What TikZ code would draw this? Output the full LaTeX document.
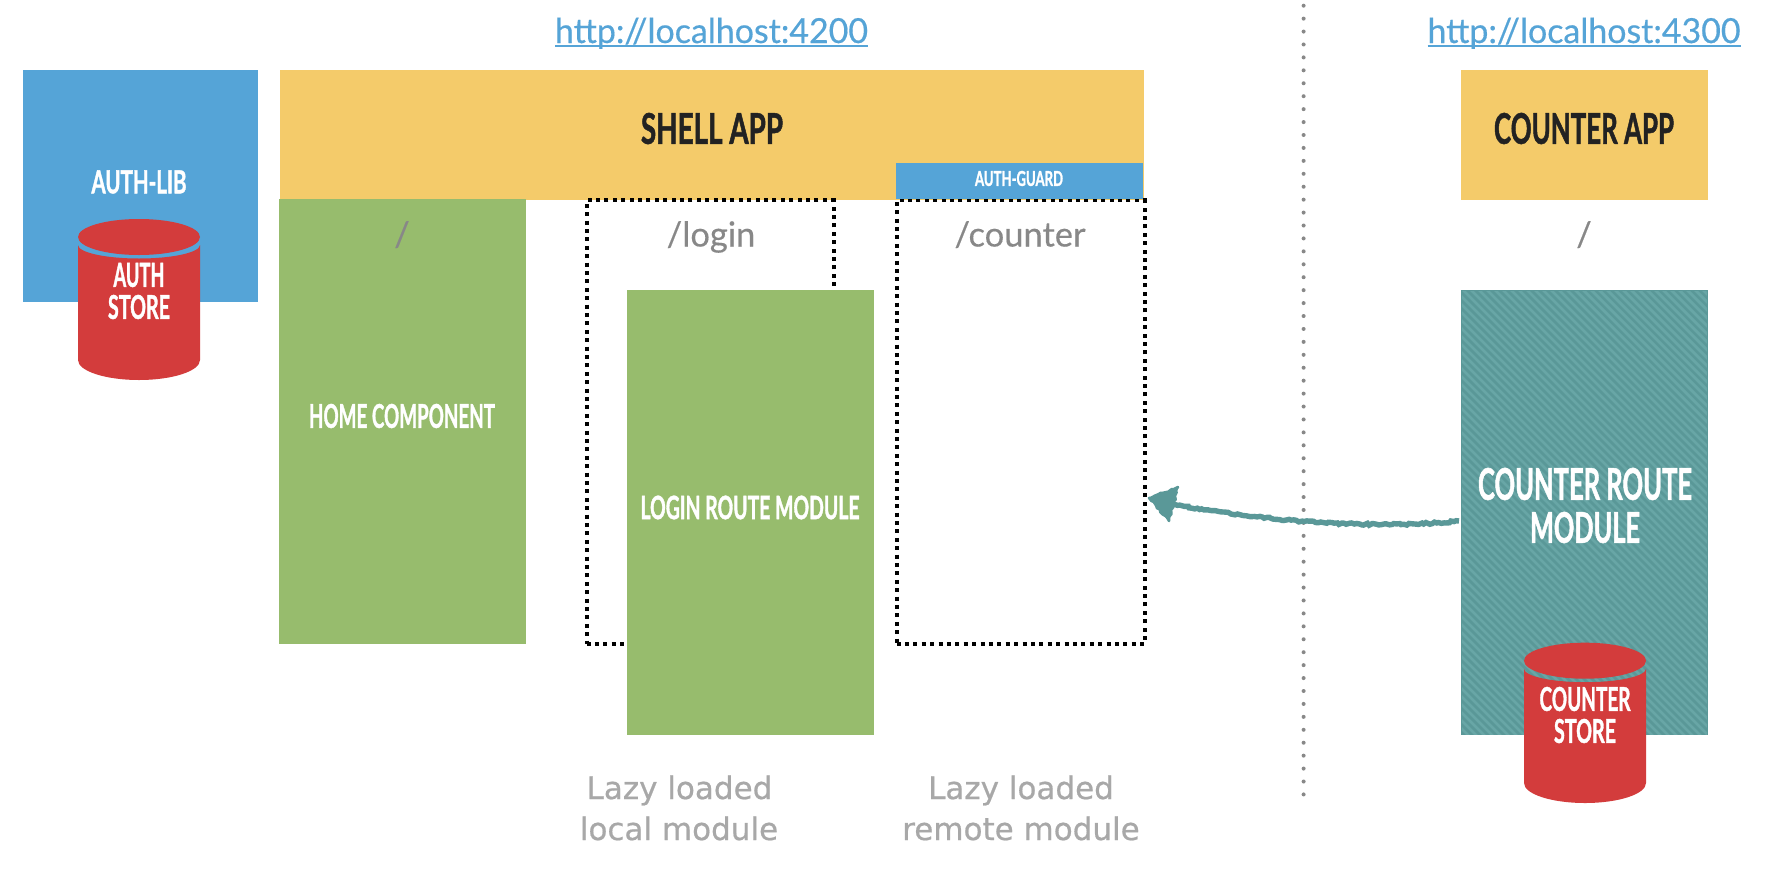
\documentclass[tikz,border=0pt]{standalone}
\usepackage{fontspec}
\usetikzlibrary{decorations.pathmorphing}
\newfontfamily\din[FakeStretch=0.7,FakeBold=1.2]{Lato Bold}
\newfontfamily\urlfont[FakeBold=0.4]{Lato}
\newfontfamily\routefont[FakeBold=0.3]{Lato}
\newfontfamily\handfont[FakeBold=0.6]{DejaVu Sans}
\definecolor{ylw}{HTML}{F4CB6A}
\definecolor{blu}{HTML}{55A4D7}
\definecolor{grn}{HTML}{97BC6D}
\definecolor{rd}{HTML}{D33C3C}
\definecolor{tealA}{HTML}{5A9898}
\definecolor{tealB}{HTML}{68A6A6}
\definecolor{ink}{HTML}{222222}
\definecolor{pathgray}{HTML}{888888}
\definecolor{handgray}{HTML}{A8A8A8}
\newcommand{\fitted}[3]{\resizebox{#1pt}{#2pt}{\din #3}}
\tikzset{
  x=1pt,y=-1pt,
  plate/.style={inner sep=0pt,outer sep=0pt,draw=none},
  dotbox/.style={plate,draw=black,line width=4pt,dash pattern=on 4pt off 4.4pt},
  caption/.style={inner sep=0pt,outer sep=0pt,text=white},
  darkcaption/.style={caption,text=ink},
  route/.style={inner sep=0pt,outer sep=0pt,text=pathgray,font=\routefont\fontsize{34.5}{34.5}\selectfont,anchor=base},
  urlnode/.style={inner sep=0pt,outer sep=0pt,text=blu,anchor=base},
  urlline/.style={draw=blu,line width=1.6pt},
  handtext/.style={inner sep=0pt,outer sep=0pt,text=handgray,anchor=base,font=\handfont\fontsize{31}{31}\selectfont},
}
\newcommand{\cylinder}[3]{%
  \fill[rd] (#1-61,#2+26) arc[start angle=180,end angle=0,x radius=61,y radius=13.5]
     -- (#1+61,#3-20) arc[start angle=0,end angle=180,x radius=61,y radius=20] -- cycle;
  \fill[rd] (#1,#2+18) ellipse[x radius=61,y radius=18];
}
\begin{document}
\begin{tikzpicture}
\useasboundingbox (0,0) rectangle (1776,870);
\fill[white] (0,0) rectangle (1776,870);

% separator
\coordinate (sepTop) at (1303.6,5.7);
\coordinate (sepBot) at (1303.6,795.5);
\draw[pathgray,line width=4pt,line cap=round,dash pattern=on 0pt off 12.93pt] (sepTop) -- (sepBot);

% URLs
\node[urlnode] (url1) at (711.5,43) {\resizebox*{313pt}{31.3pt}{\urlfont http://localhost:4200}};
\node[urlnode] (url2) at (1584,43) {\resizebox*{313pt}{31.3pt}{\urlfont http://localhost:4300}};
\draw[urlline] ([yshift=-3pt]url1.base west) -- ([yshift=-3pt]url1.base east);
\draw[urlline] ([yshift=-3pt]url2.base west) -- ([yshift=-3pt]url2.base east);

% auth lib
\node[plate,fill=blu,minimum width=235pt,minimum height=232pt] (authlib) at (140.5,186) {};
\node[caption] (authlibT) at (139,182) {\fitted{95}{23}{AUTH-LIB}};
\cylinder{139}{219}{380}
\node[caption] (authT1) at (139,275) {\fitted{51}{24}{AUTH}};
\node[caption] (authT2) at (139,307) {\fitted{62}{24}{STORE}};

% shell
\node[plate,fill=ylw,minimum width=864.5pt,minimum height=130pt] (shell) at (711.9,135) {};
\node[darkcaption] (shellT) at (712,128.5) {\fitted{142}{31}{SHELL APP}};

% home
\node[plate,fill=grn,minimum width=247pt,minimum height=445pt] (home) at (402.5,421.5) {};
\node[route] (homeR) at (402,246.5) {/};
\node[caption] (homeT) at (402,416) {\fitted{186}{24}{HOME COMPONENT}};

% login
\node[dotbox,minimum width=247pt,minimum height=443.5pt] (loginbox) at (710,422.2) {};
\node[route] (loginR) at (711,246.5) {/login};
\node[plate,fill=grn,minimum width=247pt,minimum height=445pt] (loginmod) at (750.3,512.5) {};
\node[caption] (loginT) at (750,507.5) {\fitted{219}{23.5}{LOGIN ROUTE MODULE}};

% counter box + guard
\node[dotbox,minimum width=248pt,minimum height=443.5pt] (counterbox) at (1020.5,422.2) {};
\node[route] (counterR) at (1020,246.5) {/counter};
\node[plate,fill=blu,minimum width=247pt,minimum height=36pt] (guard) at (1019.5,181) {};
\node[caption] (guardT) at (1019,178.5) {\fitted{88}{15}{AUTH-GUARD}};

% counter app
\node[plate,fill=ylw,minimum width=247pt,minimum height=130pt] (capp) at (1584.5,135) {};
\node[darkcaption] (cappT) at (1584,128.5) {\fitted{180}{31}{COUNTER APP}};
\node[route] (cappR) at (1584,246.5) {/};

% counter route module
\node[plate,fill=tealA,minimum width=247pt,minimum height=445pt] (cmod) at (1584.5,512.5) {};
\begin{scope}
  \clip (1462,291) rectangle (1707,734);
  \foreach \k in {-60,...,32}
    \draw[tealB,line width=2.8pt] (1461+\k*8,280) -- ++(500,500);
\end{scope}
\node[caption] (cmodT1) at (1585,484) {\fitted{214}{32}{COUNTER ROUTE}};
\node[caption] (cmodT2) at (1585,527.5) {\fitted{110}{31}{MODULE}};
\cylinder{1585}{642.7}{803}
\node[caption] (cT1) at (1585,699) {\fitted{91}{24}{COUNTER}};
\node[caption] (cT2) at (1585,731) {\fitted{62}{24}{STORE}};

% arrow
\pgfmathsetseed{42}
\coordinate (arrowStart) at (1459,521);
\coordinate (arrowEnd) at (1172,504);
\coordinate (tip) at (1149,498);
\draw[tealA,line width=5.4pt,decorate,decoration={random steps,segment length=2.5pt,amplitude=1pt}]
  (arrowStart) .. controls (1390,528) and (1280,525) .. (arrowEnd);
\filldraw[fill=tealA,draw=tealA,line width=2.5pt,line join=round,decorate,decoration={random steps,segment length=3pt,amplitude=1pt}]
  (tip) -- (1178,487) -- (1169,521) -- cycle;

% handwriting
\node[handtext] (lazy1) at (679.5,799) {Lazy loaded};
\node[handtext] (lazy2) at (679,840) {local module};
\node[handtext] (lazy3) at (1021,799) {Lazy loaded};
\node[handtext] (lazy4) at (1021,840) {remote module};
\end{tikzpicture}
\end{document}
